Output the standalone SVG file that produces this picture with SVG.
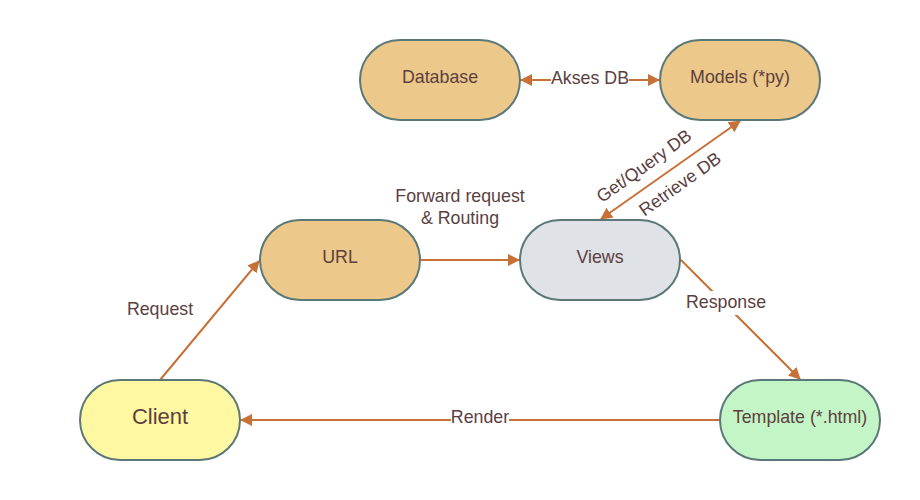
<svg xmlns="http://www.w3.org/2000/svg" width="920" height="500" viewBox="0 0 920 500">
<defs>
<style>
.node{stroke:#5a7878;stroke-width:2}
.t{font-family:"Liberation Sans",Arial,sans-serif;font-size:17.8px;fill:#5c4040;text-anchor:middle;dominant-baseline:central}
.c{stroke:#c87137;stroke-width:2;fill:none}
.bg{fill:#ffffff}
</style>
<marker id="ah" viewBox="0 0 12 12" refX="11" refY="6" markerWidth="12" markerHeight="12" markerUnits="userSpaceOnUse" orient="auto-start-reverse">
<path d="M0,0 L12,6 L0,12 Z" fill="#c87137"/>
</marker>
</defs>
<rect width="920" height="500" fill="#ffffff"/>
<g id="connectors">
<line class="c" x1="521" y1="80" x2="659" y2="80" marker-start="url(#ah)" marker-end="url(#ah)"/>
<rect class="bg" x="551" y="70" width="78" height="20"/>
<text class="t" x="590" y="78">Akses DB</text>
<line class="c" x1="740" y1="121" x2="601" y2="219" marker-start="url(#ah)" marker-end="url(#ah)"/>
<text class="t" transform="translate(644,166) rotate(-35.5)">Get/Query DB</text>
<text class="t" transform="translate(680,184) rotate(-35.5)">Retrieve DB</text>
<line class="c" x1="421" y1="260" x2="519" y2="260" marker-end="url(#ah)"/>
<text class="t" x="460" y="196">Forward request</text>
<text class="t" x="460" y="218">&amp; Routing</text>
<line class="c" x1="160" y1="380" x2="259" y2="261" marker-end="url(#ah)"/>
<text class="t" x="160" y="309">Request</text>
<line class="c" x1="681" y1="260" x2="800" y2="379" marker-end="url(#ah)"/>
<rect class="bg" x="684" y="291" width="84" height="24"/>
<text class="t" x="726" y="302">Response</text>
<line class="c" x1="719" y1="420" x2="241" y2="420" marker-end="url(#ah)"/>
<rect class="bg" x="451" y="409" width="58" height="20"/>
<text class="t" x="480" y="417">Render</text>
</g>
<g id="database">
<rect class="node" x="360" y="40" width="160" height="80" rx="40" fill="#ecc88a"/>
<text class="t" x="440" y="77">Database</text>
</g>
<g id="models">
<rect class="node" x="660" y="40" width="160" height="80" rx="40" fill="#ecc88a"/>
<text class="t" x="740" y="77">Models (*py)</text>
</g>
<g id="url">
<rect class="node" x="260" y="220" width="160" height="80" rx="40" fill="#ecc88a"/>
<text class="t" x="340" y="257">URL</text>
</g>
<g id="views">
<rect class="node" x="520" y="220" width="160" height="80" rx="40" fill="#dfe2e7"/>
<text class="t" x="600" y="257">Views</text>
</g>
<g id="client">
<rect class="node" x="80" y="380" width="160" height="80" rx="40" fill="#fff8a3"/>
<text class="t" x="160" y="416" style="font-size:22px">Client</text>
</g>
<g id="template">
<rect class="node" x="720" y="380" width="160" height="80" rx="40" fill="#c4f5c6"/>
<text class="t" x="800" y="417">Template (*.html)</text>
</g>
</svg>
